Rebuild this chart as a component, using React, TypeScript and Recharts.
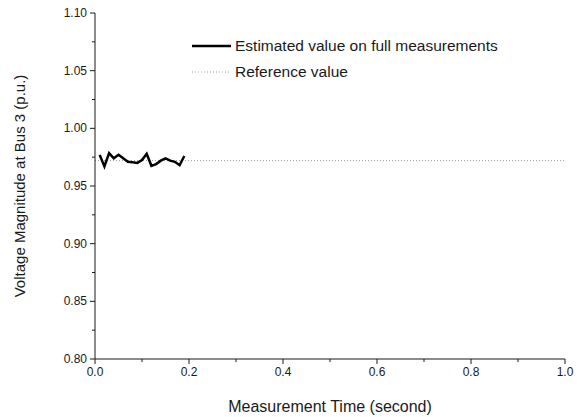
import React from 'react';
import { LineChart, Line, XAxis, YAxis, ReferenceLine } from 'recharts';

document.body.style.margin = '0';

const times = [0.01, 0.02, 0.03, 0.04, 0.05, 0.06, 0.07, 0.08, 0.09, 0.1, 0.11, 0.12, 0.13, 0.14, 0.15, 0.16, 0.17, 0.18, 0.19];
const estimated = [0.977, 0.967, 0.9785, 0.974, 0.977, 0.974, 0.971, 0.9705, 0.970, 0.9725, 0.978, 0.9675, 0.969, 0.972, 0.974, 0.972, 0.971, 0.968, 0.976];
const referenceValue = 0.972;

const xTicks = [0, 0.1, 0.2, 0.3, 0.4, 0.5, 0.6, 0.7, 0.8, 0.9, 1.0];
const yTicks = [0.8, 0.825, 0.85, 0.875, 0.9, 0.925, 0.95, 0.975, 1.0, 1.025, 1.05, 1.075, 1.1];

const data = times.map((t, i) => ({ t, v: estimated[i] }));

const FONT = '"Liberation Sans", Arial, sans-serif';
const INK = '#1a1a1a';

// x ticks: labelled every 0.2, short unlabelled marks in between
const XTick = (props: any) => {
  const { x, y, index, payload } = props;
  const major = index % 2 === 0;
  return (
    <g>
      <line x1={x} x2={x} y1={y} y2={y + (major ? 5 : 3)} stroke={INK} strokeWidth={1} />
      {major && (
        <text x={x} y={y + 17} textAnchor="middle" fontSize={12} fontFamily={FONT} fill={INK}>
          {payload.value.toFixed(1)}
        </text>
      )}
    </g>
  );
};

const YTick = (props: any) => {
  const { x, y, index, payload } = props;
  const major = index % 2 === 0;
  return (
    <g>
      <line x1={x} x2={x - (major ? 5 : 3)} y1={y} y2={y} stroke={INK} strokeWidth={1} />
      {major && (
        <text x={x - 8} y={y + 4} textAnchor="end" fontSize={12} fontFamily={FONT} fill={INK}>
          {payload.value.toFixed(2)}
        </text>
      )}
    </g>
  );
};

export default function App() {
  return (
    <div style={{ position: 'relative', width: 579, height: 417, background: '#fff', fontFamily: FONT }}>
      <LineChart width={579} height={417} data={data} margin={{ top: 13, right: 14, bottom: 28, left: 45 }}>
        <XAxis
          dataKey="t"
          type="number"
          domain={[0, 1]}
          ticks={xTicks}
          interval={0}
          tickSize={0}
          tickMargin={0}
          height={30}
          stroke={INK}
          tick={<XTick />}
        />
        <YAxis
          type="number"
          domain={[0.8, 1.1]}
          ticks={yTicks}
          interval={0}
          tickSize={0}
          tickMargin={0}
          width={50}
          stroke={INK}
          tick={<YTick />}
        />
        <ReferenceLine y={referenceValue} stroke="#9a9a9a" strokeDasharray="1 2" strokeWidth={1} />
        <Line
          dataKey="v"
          stroke="#000"
          strokeWidth={2.5}
          dot={false}
          isAnimationActive={false}
        />
      </LineChart>

      <svg width={579} height={417} style={{ position: 'absolute', left: 0, top: 0, pointerEvents: 'none' }}>
        <line x1={192} x2={231} y1={46} y2={46} stroke="#000" strokeWidth={2.5} />
        <text x={235} y={51} fontSize={15.5} fontFamily={FONT} fill={INK}>Estimated value on full measurements</text>
        <line x1={192} x2={231} y1={72} y2={72} stroke="#9a9a9a" strokeWidth={1} strokeDasharray="1 2" />
        <text x={235} y={77} fontSize={15.5} fontFamily={FONT} fill={INK}>Reference value</text>
        <text
          x={0}
          y={0}
          transform="translate(25,186) rotate(-90)"
          textAnchor="middle"
          fontSize={15}
          fontFamily={FONT}
          fill={INK}
        >
          Voltage Magnitude at Bus 3 (p.u.)
        </text>
        <text x={330} y={412} textAnchor="middle" fontSize={16} fontFamily={FONT} fill={INK}>
          Measurement Time (second)
        </text>
      </svg>
    </div>
  );
}
